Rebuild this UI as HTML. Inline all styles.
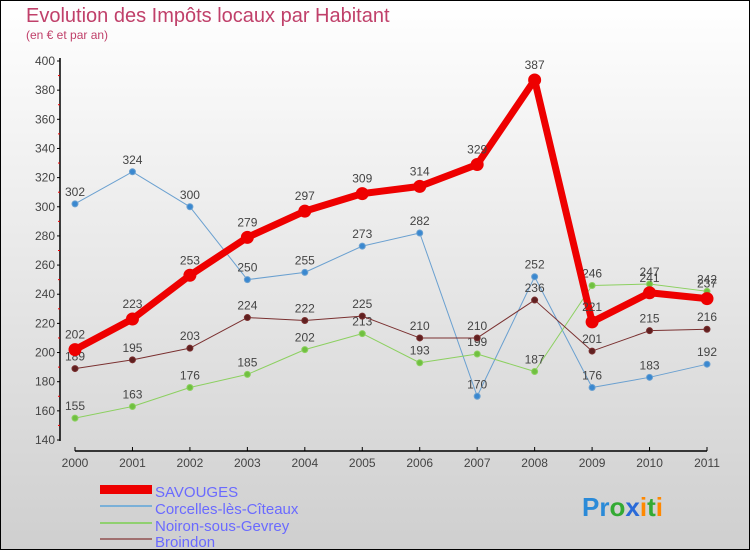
<!DOCTYPE html>
<html><head><meta charset="utf-8"><style>
body{margin:0}
#c{width:750px;height:550px;position:relative;box-sizing:border-box;border:1px solid #000;background:linear-gradient(#fff,#cfcfcf);font-family:"Liberation Sans",sans-serif;overflow:hidden}
</style></head><body>
<div id="c">
<svg id="s" width="750" height="550" style="position:absolute;left:-1px;top:-1px">
<text x="26" y="22" font-size="20" fill="#c0406a">Evolution des Impôts locaux par Habitant</text>
<text x="26" y="39" font-size="12" fill="#c0406a">(en € et par an)</text>
<g id="g"></g>
<g>
<rect x="100" y="485" width="52" height="9" fill="#e00"/>
<text x="155" y="497" font-size="15" fill="#6a6aff">SAVOUGES</text>
<rect x="100" y="505" width="52" height="2" fill="#7ab0d8"/>
<text x="155" y="514" font-size="15" fill="#6a6aff">Corcelles-lès-Cîteaux</text>
<rect x="100" y="522" width="52" height="2" fill="#90d070"/>
<text x="155" y="531" font-size="15" fill="#6a6aff">Noiron-sous-Gevrey</text>
<rect x="100" y="538" width="52" height="2" fill="#a07070"/>
<text x="155" y="547" font-size="15" fill="#6a6aff">Broindon</text>
</g>
<text x="582" y="516" font-size="26" font-weight="bold"><tspan fill="#2a8ad8">Pr</tspan><tspan fill="#3a3">o</tspan><tspan fill="#2a6ad8">x</tspan><tspan fill="#f80">i</tspan><tspan fill="#3a3">t</tspan><tspan fill="#f80">i</tspan></text>
</svg>
</div>
<script>
const years=[2000,2001,2002,2003,2004,2005,2006,2007,2008,2009,2010,2011];
const savouges=[202,223,253,279,297,309,314,329,387,221,241,237];
const corcelles=[302,324,300,250,255,273,282,170,252,176,183,192];
const noiron=[155,163,176,185,202,213,193,199,187,246,247,242];
const broindon=[189,195,203,224,222,225,210,210,236,201,215,216];
const yTicks=[140,160,180,200,220,240,260,280,300,320,340,360,380,400];
const NS="http://www.w3.org/2000/svg";
const g=document.getElementById('g');
const X=i=>75+i*(707-75)/(years.length-1);
const Y=v=>440-(v-140)*(440-61)/260;
function mk(t,a,p){const e=document.createElementNS(NS,t);for(const k in a)e.setAttribute(k,a[k]);(p||g).appendChild(e);return e;}
// y axis
let ya=mk('line',{x1:60,y1:58,x2:60,y2:441,stroke:'#000','stroke-width':1.5});


yTicks.forEach((v,i)=>{
 mk('line',{x1:57,x2:60,y1:Y(v),y2:Y(v),stroke:'#000'});
 if(i<yTicks.length-1) mk('line',{x1:58,x2:60,y1:Y(v+10),y2:Y(v+10),stroke:'#e00'});
 const t=mk('text',{x:55,y:Y(v)+4,'font-size':12,'text-anchor':'end',fill:'#444'});t.textContent=v;
 
 
});
let xa=mk('line',{x1:75,y1:451,x2:707,y2:451,stroke:'#000','stroke-width':1.5});


years.forEach((y,i)=>{
 mk('line',{x1:X(i),x2:X(i),y1:447,y2:451,stroke:'#000'});
 const t=mk('text',{x:X(i),y:467,'font-size':12,'text-anchor':'middle',fill:'#444'});t.textContent=y;
 
 
});
function series(d,col,dot,w,r,name,off){
 const gg=mk('g',{});
 
 
 mk('polyline',{points:d.map((v,i)=>X(i)+','+Y(v)).join(' '),fill:'none',stroke:col,'stroke-width':w,'stroke-linejoin':'round'},gg);
 d.forEach((v,i)=>{
  const c=mk('circle',{cx:X(i),cy:Y(v),r:r,fill:dot,stroke:col,'stroke-width':1},gg);
  
  
  const t=mk('text',{x:X(i),y:Y(v)-off,'font-size':12,'text-anchor':'middle',fill:'#444'},gg);t.textContent=v;
  
  
 });
}
series(corcelles,'#6aa0d0','#3a88d0',1,3,'corcelles',8);
series(noiron,'#8cd060','#70c040',1,3,'noiron',8);
series(broindon,'#7a3030','#602020',1,3,'broindon',8);
series(savouges,'#e00','#e00',7,6,'savouges',11);
</script>
</body></html>
